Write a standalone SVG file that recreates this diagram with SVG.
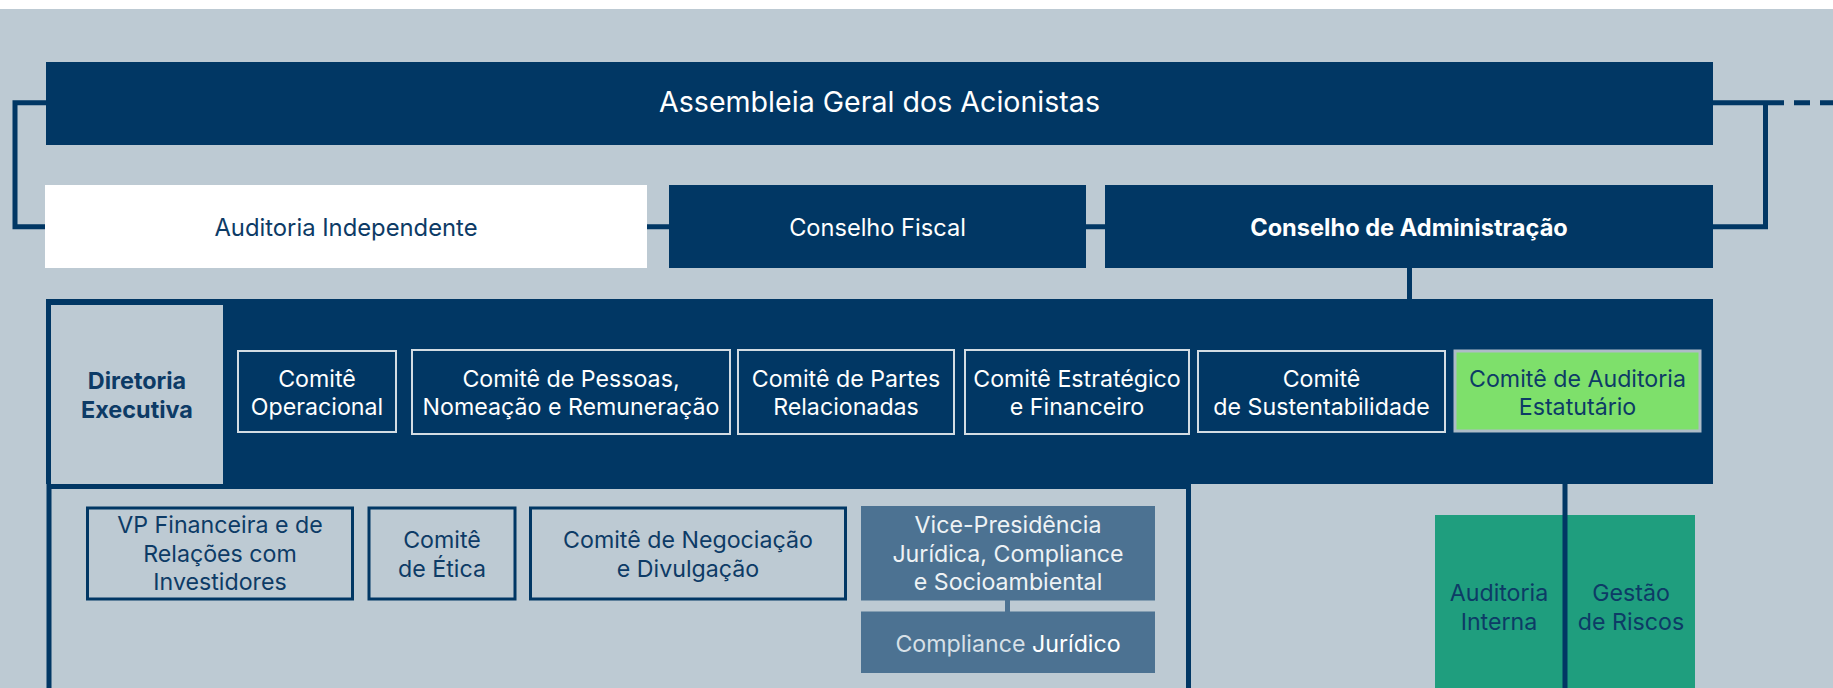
<svg xmlns="http://www.w3.org/2000/svg" width="1833" height="688" viewBox="0 0 1833 688">
<style>
text{font-family:Inter,"Open Sans",sans-serif;text-anchor:middle}
.navy{fill:#013764}
.w{fill:#ffffff}
.t{fill:#0D3B66}
.f24{font-size:23.2px}
.com{fill:#013764;stroke:#D3DCE3;stroke-width:2}
.low{fill:none;stroke:#013764;stroke-width:3}
.vp{fill:#4C7292}
.conn{fill:none;stroke:#013764;stroke-width:5}
</style>
<rect x="0" y="0" width="1833" height="688" fill="#ffffff"/>
<rect x="0" y="9" width="1833" height="679" fill="#BDCAD3"/>

<g id="connectors">
<path class="conn" d="M46 102.7 H15 V226.8 H46"/>
<path class="conn" d="M1713 102.7 H1765.5 V226.8 H1713"/>
<path class="conn" d="M1768 102.7 H1833" stroke-dasharray="16 10"/>
<path class="conn" d="M647 226.8 H669 M1086 226.8 H1105"/>
<path class="conn" d="M1409.5 268 V300"/>
<rect x="49" y="486.5" width="1139.5" height="260" class="conn"/>
<rect x="1005" y="600" width="5" height="12" fill="#4C7292"/>
</g>

<g id="assembleia">
<rect x="46" y="62" width="1667" height="83" class="navy"/>
<text x="879.5" y="111.5" class="w" font-size="28.6">Assembleia Geral dos Acionistas</text>
</g>

<g id="auditoria-independente">
<rect x="45" y="185" width="602" height="83" fill="#ffffff"/>
<text x="346" y="236" class="t" font-size="23.8">Auditoria Independente</text>
</g>

<g id="conselho-fiscal">
<rect x="669" y="185" width="417" height="83" class="navy"/>
<text x="877.5" y="236" class="w" font-size="23.6">Conselho Fiscal</text>
</g>

<g id="conselho-administracao">
<rect x="1105" y="185" width="608" height="83" class="navy"/>
<text x="1409" y="236" class="w" font-size="23.6" font-weight="bold">Conselho de Administração</text>
</g>

<g id="painel-comites">
<rect x="46" y="299" width="1667" height="185" class="navy"/>
</g>

<g id="diretoria-executiva">
<rect x="51" y="305" width="172" height="179" fill="#BDCAD3"/>
<text x="137" y="389" class="t" font-size="23.4" font-weight="bold"><tspan x="137">Diretoria</tspan><tspan x="137" dy="29">Executiva</tspan></text>
</g>

<g id="comite-operacional">
<rect x="238" y="351" width="158" height="81" class="com"/>
<text x="317" y="386.7" class="w f24"><tspan x="317">Comitê</tspan><tspan x="317" dy="28.3">Operacional</tspan></text>
</g>

<g id="comite-pessoas">
<rect x="412" y="350" width="318" height="84" class="com"/>
<text x="571" y="386.7" class="w f24"><tspan x="571">Comitê de Pessoas,</tspan><tspan x="571" dy="28.3">Nomeação e Remuneração</tspan></text>
</g>

<g id="comite-partes">
<rect x="738" y="350" width="216" height="84" class="com"/>
<text x="846" y="386.7" class="w f24"><tspan x="846">Comitê de Partes</tspan><tspan x="846" dy="28.3">Relacionadas</tspan></text>
</g>

<g id="comite-estrategico">
<rect x="965" y="350" width="224" height="84" class="com"/>
<text x="1077" y="386.7" class="w f24"><tspan x="1077">Comitê Estratégico</tspan><tspan x="1077" dy="28.3">e Financeiro</tspan></text>
</g>

<g id="comite-sustentabilidade">
<rect x="1198" y="351" width="247" height="81" class="com"/>
<text x="1321.5" y="386.7" class="w f24"><tspan x="1321.5">Comitê</tspan><tspan x="1321.5" dy="28.3">de Sustentabilidade</tspan></text>
</g>

<g id="comite-auditoria">
<rect x="1455" y="351" width="245" height="80" fill="#7EE06B" stroke="#AEBCC7" stroke-width="3"/>
<text x="1577.5" y="386.7" class="t f24"><tspan x="1577.5">Comitê de Auditoria</tspan><tspan x="1577.5" dy="28.3">Estatutário</tspan></text>
</g>

<g id="vp-financeira">
<rect x="87.5" y="508" width="265" height="91" class="low"/>
<text x="220" y="533.3" class="t f24"><tspan x="220">VP Financeira e de</tspan><tspan x="220" dy="28.3">Relações com</tspan><tspan x="220" dy="28.3">Investidores</tspan></text>
</g>

<g id="comite-etica">
<rect x="369" y="508" width="146" height="91" class="low"/>
<text x="442" y="548" class="t f24"><tspan x="442">Comitê</tspan><tspan x="442" dy="28.5">de Ética</tspan></text>
</g>

<g id="comite-negociacao">
<rect x="530.5" y="508" width="315" height="91" class="low"/>
<text x="688" y="548" class="t f24"><tspan x="688">Comitê de Negociação</tspan><tspan x="688" dy="28.5">e Divulgação</tspan></text>
</g>

<g id="vp-juridica">
<rect x="861" y="506" width="294" height="94.5" class="vp"/>
<text x="1008" y="533.3" fill="#EEF2F5" class="f24"><tspan x="1008">Vice-Presidência</tspan><tspan x="1008" dy="28.3">Jurídica, Compliance</tspan><tspan x="1008" dy="28.3">e Socioambiental</tspan></text>
</g>

<g id="compliance-juridico">
<rect x="861" y="611.5" width="294" height="61.5" class="vp"/>
<text x="1008" y="651.7" class="f24"><tspan fill="#D7E0E7">Compliance </tspan><tspan fill="#ffffff">Jurídico</tspan></text>
</g>

<g id="auditoria-interna">
<rect x="1435" y="515" width="128" height="173" fill="#1F9E7E"/>
<text x="1499" y="600.7" class="t f24"><tspan x="1499">Auditoria</tspan><tspan x="1499" dy="29.3">Interna</tspan></text>
</g>

<g id="gestao-riscos">
<rect x="1567" y="515" width="128" height="173" fill="#1F9E7E"/>
<text x="1631" y="600.7" class="t f24"><tspan x="1631">Gestão</tspan><tspan x="1631" dy="29.3">de Riscos</tspan></text>
</g>

<g id="connector-auditoria">
<path class="conn" d="M1565 484 V688"/>
</g>
</svg>
